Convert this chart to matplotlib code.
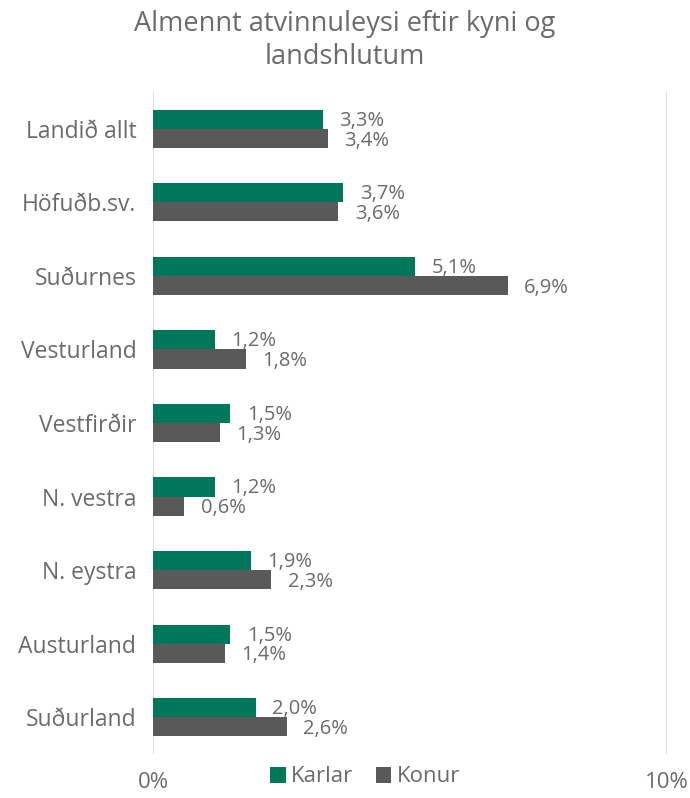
import matplotlib.pyplot as plt
import numpy as np

plt.rcParams['font.family'] = ['Open Sans', 'DejaVu Sans']

regions = ['Landið allt', 'Höfuðb.sv.', 'Suðurnes', 'Vesturland', 'Vestfirðir',
           'N. vestra', 'N. eystra', 'Austurland', 'Suðurland']
karlar = [3.3, 3.7, 5.1, 1.2, 1.5, 1.2, 1.9, 1.5, 2.0]
konur = [3.4, 3.6, 6.9, 1.8, 1.3, 0.6, 2.3, 1.4, 2.6]

green = '#00775A'
grey = '#595959'
txt = '#6B6B6B'

fig = plt.figure(figsize=(6.9, 7.98), dpi=100)
ax = fig.add_axes([153/690, 1-754/798, (667-153)/690, 662/798])

y = np.arange(len(regions))
h = 0.26
ax.barh(y - h/2, karlar, height=h, color=green, label='Karlar')
ax.barh(y + h/2, konur, height=h, color=grey, label='Konur')

for i in range(len(regions)):
    ax.annotate(f'{karlar[i]:.1f}%'.replace('.', ','), (karlar[i], y[i] - h/2 + 0.02),
                xytext=(12, 0), textcoords='offset points', va='center', ha='left',
                fontsize=14.5, color=txt)
    ax.annotate(f'{konur[i]:.1f}%'.replace('.', ','), (konur[i], y[i] + h/2 + 0.03),
                xytext=(12, 0), textcoords='offset points', va='center', ha='left',
                fontsize=14.5, color=txt)

ax.set_xlim(0, 10)
ax.set_ylim(len(regions) - 0.5, -0.5)
ax.set_yticks(y)
ax.set_yticklabels(regions, fontsize=16.5, color=txt)
ax.tick_params(axis='y', length=0, pad=12)
ax.set_xticks([0, 10])
ax.set_xticklabels(['0%', '10%'], fontsize=16, color=txt)
ax.tick_params(axis='x', length=0, pad=13)
for s in ax.spines.values():
    s.set_visible(False)
for xv in [0, 10]:
    ax.axvline(xv, color='#D9D9D9', lw=1.2, zorder=0)

fig.suptitle('Almennt atvinnuleysi eftir kyni og\nlandshlutum', fontsize=19.5,
             color=txt, y=1-10/798, va='top', linespacing=1.25)

fig.legend(loc='center', bbox_to_anchor=(365/690, 1-777/798), ncol=2, frameon=False,
           fontsize=16, labelcolor=txt, handlelength=0.7, handleheight=0.7,
           handletextpad=0.25, columnspacing=1.0)

fig.savefig('out.png', dpi=100)
